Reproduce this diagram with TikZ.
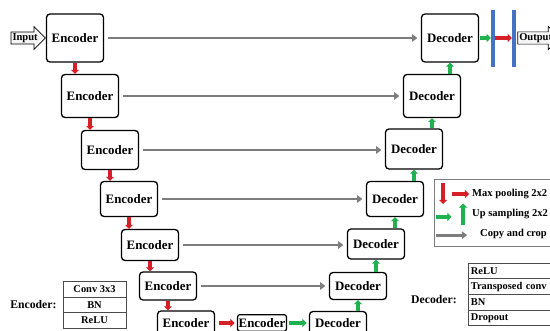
\documentclass[tikz,border=0pt]{standalone}
\usepackage{fontspec}
\setmainfont{Liberation Serif}
\usetikzlibrary{arrows.meta,positioning,shapes.arrows}
\definecolor{poolred}{RGB}{212,32,38}
\definecolor{upgreen}{RGB}{32,178,80}
\definecolor{copygray}{RGB}{125,125,125}
\definecolor{barblue}{RGB}{68,114,196}

\begin{document}
\begin{tikzpicture}[
        x=0.03cm, y=-0.03cm,
        every node/.style={font=\bfseries\fontsize{11}{13}\selectfont},
        block/.style={draw, line width=1.1pt, rounded corners=3pt,
                      minimum width=1.71cm, inner sep=1pt, align=center},
        pool/.style={-{Triangle[length=3.5pt,width=7pt]}, line width=3pt, poolred},
        upsamp/.style={-{Triangle[length=3.5pt,width=7pt]}, line width=3pt, upgreen},
        copycrop/.style={-{Triangle[length=4.5pt,width=6.5pt]}, line width=2.5pt, copygray,
                         shorten <=3pt, shorten >=3pt},
        bar/.style={fill=barblue, minimum width=0.12cm, minimum height=1.71cm, inner sep=0pt},
        io/.style={single arrow, draw, fill=gray!8, line width=0.6pt, inner sep=1pt,
                   single arrow head extend=4.5pt, font=\bfseries\fontsize{9}{10}\selectfont},
        cell/.style={draw=black!70, line width=0.5pt, minimum width=1.89cm, minimum height=0.47cm,
                     inner sep=0pt, outer sep=0pt, font=\bfseries\fontsize{8.9}{10}\selectfont},
        dcell/.style={cell, text width=2.8cm, inner xsep=2.5pt, align=left},
        legtxt/.style={anchor=west, inner sep=0pt, font=\bfseries\fontsize{9}{11}\selectfont}
    ]
        \clip (0,0) rectangle (550,331);

        % encoder path
        \node[block, minimum height=1.44cm] (e1) at (75,38) {Encoder};
        \node[block, minimum height=1.29cm] (e2) at (90,96) {Encoder};
        \node[block, minimum height=1.17cm] (e3) at (110,150) {Encoder};
        \node[block, minimum height=1.05cm] (e4) at (129,199) {Encoder};
        \node[block, minimum height=0.93cm] (e5) at (150,245) {Encoder};
        \node[block, minimum height=0.84cm] (e6) at (168,286) {Encoder};
        \node[block, minimum height=0.72cm] (e7) at (186,323) {Encoder};
        \node[block, minimum width=0pt, minimum height=0.5cm, rounded corners=2pt] (mid) at (262,323) {Encoder};

        % decoder path
        \node[block, minimum height=1.44cm] (d1) at (450,38) {Decoder};
        \node[block, minimum height=1.29cm] (d2) at (432,96) {Decoder};
        \node[block, minimum height=1.2cm] (d3) at (414,149) {Decoder};
        \node[block, minimum height=1.05cm] (d4) at (395,199) {Decoder};
        \node[block, minimum height=0.9cm] (d5) at (376,244) {Decoder};
        \node[block, minimum height=0.81cm] (d6) at (358,286) {Decoder};
        \node[block, minimum height=0.69cm] (d7) at (338,323) {Decoder};

        % input / output
        \node[io, anchor=tip] (in) at (e1.west) {Input};
        \node[bar] (b1) at (493,38) {};
        \node[bar] (b2) at (514,38) {};
        \node[io, anchor=tail] (out) at ([xshift=1pt]b2.east) {Output};

        % max pooling
        \draw[pool] (e1.south) -- (e1.south |- e2.north);
        \draw[pool] (e2.south) -- (e2.south |- e3.north);
        \draw[pool] (e3.south) -- (e3.south |- e4.north);
        \draw[pool] (e4.south) -- (e4.south |- e5.north);
        \draw[pool] (e5.south) -- (e5.south |- e6.north);
        \draw[pool] (e6.south) -- (e6.south |- e7.north);
        \draw[pool, shorten <=3pt, shorten >=2pt] (e7.east) -- (mid.west);
        \draw[pool] (b1.east) -- (b2.west);

        % up sampling
        \draw[upsamp, shorten <=2pt, shorten >=2pt] (mid.east) -- (d7.west);
        \draw[upsamp] (d6.south |- d7.north) -- (d6.south);
        \draw[upsamp] (d5.south |- d6.north) -- (d5.south);
        \draw[upsamp] (d4.south |- d5.north) -- (d4.south);
        \draw[upsamp] (d3.south |- d4.north) -- (d3.south);
        \draw[upsamp] (d2.south |- d3.north) -- (d2.south);
        \draw[upsamp] (d1.south |- d2.north) -- (d1.south);
        \draw[upsamp, shorten <=1pt] (d1.east) -- (b1.west);

        % copy and crop
        \draw[copycrop] (e1.east) -- (e1.east -| d1.west);
        \draw[copycrop] (e2.east) -- (e2.east -| d2.west);
        \draw[copycrop] (e3.east) -- (e3.east -| d3.west);
        \draw[copycrop] (e4.east) -- (e4.east -| d4.west);
        \draw[copycrop] (e5.east) -- (e5.east -| d5.west);
        \draw[copycrop] (e6.east) -- (e6.east -| d6.west);

        % legend
        \node[draw=copygray, line width=0.6pt, minimum width=3.9cm, minimum height=2.01cm,
              anchor=north west] (leg) at (434,179) {};
        \node[legtxt] (lpool) at (472,194) {Max pooling 2x2};
        \node[legtxt] (lup) at (472,214) {Up sampling 2x2};
        \node[legtxt] (lcopy) at (480,234) {Copy and crop};
        \draw[pool] ([xshift=-24.6pt,yshift=9pt]lpool.west) -- ([xshift=-24.6pt,yshift=-8.5pt]lpool.west);
        \draw[pool] ([xshift=-17pt]lpool.west) -- ([xshift=-2.5pt]lpool.west);
        \draw[upsamp] ([xshift=-30.6pt,yshift=-2.5pt]lup.west) -- ([xshift=-17.5pt,yshift=-2.5pt]lup.west);
        \draw[upsamp] ([xshift=-7.6pt,yshift=-9.4pt]lup.west) -- ([xshift=-7.6pt,yshift=9pt]lup.west);
        \draw[copycrop, shorten <=0pt, shorten >=0pt] ([xshift=-37.4pt,yshift=-1pt]lcopy.west) -- ([xshift=-11pt,yshift=-1pt]lcopy.west);

        % layer tables
        \node[cell] (c1) at (94.5,289) {Conv 3x3};
        \node[cell, below=0pt of c1] (c2) {BN};
        \node[cell, below=0pt of c2] (c3) {ReLU};
        \node[left=2pt of c2, font=\bfseries\fontsize{10}{12}\selectfont] (enclab) {Encoder:};

        \node[dcell, anchor=north west] (r1) at (468,263) {ReLU};
        \node[dcell, below=0pt of r1] (r2) {Transposed conv};
        \node[dcell, below=0pt of r2] (r3) {BN};
        \node[dcell, below=0pt of r3] (r4) {Dropout};
        \node[font=\bfseries\fontsize{10}{12}\selectfont] (declab) at (434,300) {Decoder:};
    \end{tikzpicture}
\end{document}
